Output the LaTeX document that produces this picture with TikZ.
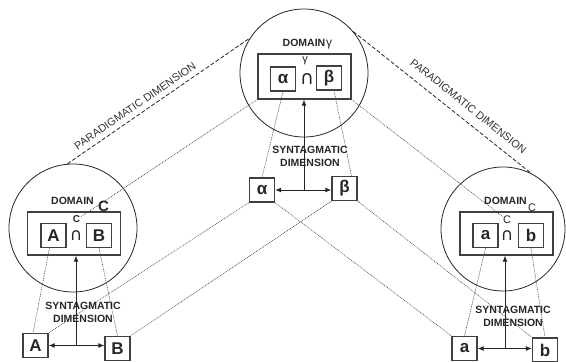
\documentclass[tikz,border=0pt]{standalone}
\usepackage{fontspec}
\setmainfont{Liberation Sans}
\newfontfamily\djv{DejaVu Sans}
\usetikzlibrary{arrows.meta}
\begin{document}
\begin{tikzpicture}[x=1pt,y=-1pt,
  circ/.style={draw=black!85, line width=0.8pt, circle, minimum size=128pt, inner sep=0},
  outerbox/.style={draw=black!75, line width=1.3pt, minimum width=93pt, minimum height=44pt, inner sep=0},
  letterbox/.style={draw=black!75, line width=1.3pt, minimum width=25pt, minimum height=24pt, inner sep=0, font=\fontsize{17}{17}\selectfont\bfseries, text=black!85},
  dotline/.style={draw=black!70, line width=0.6pt, dash pattern=on 0.9pt off 0.9pt},
  paraline/.style={draw=black!85, line width=0.8pt, dash pattern=on 4pt off 2pt},
  arr/.style={draw=black!85, line width=1pt, -{Latex[length=6pt,width=5pt]}},
  darr/.style={draw=black!85, line width=1pt, {Latex[length=6pt,width=5pt]}-{Latex[length=6pt,width=5pt]}},
  synt/.style={font=\fontsize{10.5}{13}\selectfont\bfseries, align=center, text=black!85, inner sep=0},
  dom/.style={font=\fontsize{10.5}{11}\selectfont\bfseries, text=black!85, inner sep=0},
  para/.style={font=\fontsize{10.8}{11}\selectfont, text=black!80, inner sep=0},
  capsym/.style={font=\djv\fontsize{19}{19}\selectfont, text=black!85, inner sep=0},
  smallc/.style={font=\fontsize{10}{10}\selectfont\bfseries, text=black!85, inner sep=0},
]
\useasboundingbox (0,0) rectangle (566,362);

% circles
\node[circ] (T) at (304,73) {};
\node[circ] (L) at (73,228) {};
\node[circ, minimum size=124pt] (R) at (503,229) {};

% domain rectangles
\node[outerbox, minimum height=45pt] (Tr) at (304.5,76.5) {};
\node[outerbox, minimum height=43pt] (Lr) at (74,233.5) {};
\node[outerbox, minimum height=43pt] (Rr) at (506.5,233.5) {};

% inner letter boxes
\node[letterbox] (Ti1) at (283,79) {α};
\node[letterbox] (Ti2) at (329,78) {β};
\node[letterbox] (Li1) at (53.5,235.5) {A};
\node[letterbox] (Li2) at (99,235.5) {B};
\node[letterbox] (Ri1) at (485.5,235.5) {a};
\node[letterbox] (Ri2) at (531,235.5) {b};

% outer letter boxes
\node[letterbox] (To1) at (262,190) {α};
\node[letterbox] (To2) at (344.5,188.5) {β};
\node[letterbox] (Lo1) at (35.5,345.5) {A};
\node[letterbox] (Lo2) at (117.5,348.5) {B};
\node[letterbox] (Ro1) at (464.5,348.5) {a};
\node[letterbox] (Ro2) at (545,350) {b};

% intersection signs and their labels
\node[capsym] (Tcap) at (307,79) {∩};
\node[font=\fontsize{11}{11}\selectfont, inner sep=0, text=black!85] (Tg) at (305,61) {γ};
\node[capsym, font=\djv\fontsize{17}{17}\selectfont] (Lcap) at (76,235.5) {∩};
\node[smallc] (Lc) at (76.5,219.5) {C};
\node[capsym, font=\djv\fontsize{17}{17}\selectfont] (Rcap) at (507,235.5) {∩};
\node[smallc, font=\fontsize{11}{11}\selectfont] (Rc) at (507,220) {C};

% domain labels
\node[dom] (Tdom) at (304,42.5) {DOMAIN};
\node[font=\fontsize{12}{12}\selectfont, inner sep=0, anchor=base west, text=black!85] (Tdg) at ([xshift=0.5pt]Tdom.base east) {γ};
\node[dom] (Ldom) at (72.5,201) {DOMAIN};
\node[font=\fontsize{15}{15}\selectfont\bfseries, inner sep=0, text=black!85] (LC) at (103.5,206) {C};
\node[dom] (Rdom) at (505.5,201) {DOMAIN};
\node[font=\fontsize{11}{11}\selectfont, inner sep=0, text=black!85] (RC) at (532,208) {C};

% paradigmatic dimension
\draw[paraline] (L.95) -- node[para, sloped, pos=0.4, above=5pt] {PARADIGMATIC DIMENSION} (T.147);
\draw[paraline] (T.40) -- node[para, sloped, pos=0.6, above=9pt] {PARADIGMATIC DIMENSION} (R.63);

% dotted links
\draw[dotline] (Tr.south west) -- (Lc);
\draw[dotline] (Tr.south east) -- (Rc);
\draw[dotline] (Ti1.south) -- (To1.north);
\draw[dotline] ([xshift=5pt]Ti2.south) -- ([xshift=7pt]To2.north);
\draw[dotline] ([xshift=-4pt]Li1.south) -- ([xshift=-2.5pt]Lo1.north);
\draw[dotline] (Li2.south) -- (Lo2.north);
\draw[dotline] (Ri1.south) -- (Ro1.north);
\draw[dotline] (Ri2.south) -- (Ro2.north);
\draw[dotline] (To1.south west) -- (Lo1.north east);
\draw[dotline] (To2.south west) -- (Lo2.north east);
\draw[dotline] (To1.south east) -- (Ro1.north west);
\draw[dotline] (To2.south east) -- (Ro2.north west);

% syntagmatic labels
\node[synt] (Ts) at (310,156.5) {SYNTAGMATIC\\DIMENSION};
\node[synt] (Ls) at (83,312) {SYNTAGMATIC\\DIMENSION};
\node[synt] (Rs) at (513,316.5) {SYNTAGMATIC\\DIMENSION};

% syntagmatic arrows
\coordinate (Tm) at (304,190);
\draw[darr] (To1.east) -- (To1.east -| To2.west);
\draw[arr] (Tm) -- (Tm |- Tr.south);
\coordinate (Lm) at (76,345.5);
\draw[darr] (Lo1.east) -- (Lo1.east -| Lo2.west);
\draw[arr] (Lm) -- (Lm |- Lr.south);
\coordinate (Rm) at (505,348.5);
\draw[darr] (Ro1.east) -- (Ro1.east -| Ro2.west);
\draw[arr] (Rm) -- (Rm |- Rr.south);
\end{tikzpicture}
\end{document}
